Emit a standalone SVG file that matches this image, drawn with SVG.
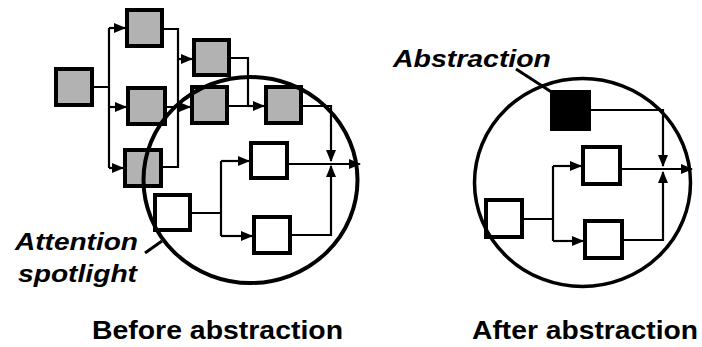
<svg xmlns="http://www.w3.org/2000/svg" width="702" height="347" viewBox="0 0 702 347">
<style>
.g{fill:#b2b2b2;stroke:#000;stroke-width:4}
.w{fill:#fff;stroke:#000;stroke-width:4}
.b{fill:#000;stroke:#000;stroke-width:4}
.c{fill:none;stroke:#000;stroke-width:2.2}
.a{fill:none;stroke:#000;stroke-width:2.2;marker-end:url(#ah)}
.ring{fill:none;stroke:#000;stroke-width:4}
.lbl{font-family:"Liberation Sans",Arial,sans-serif;font-weight:bold;fill:#000}
.it{font-style:italic}
</style>
<defs>
<marker id="ah" markerUnits="userSpaceOnUse" markerWidth="12" markerHeight="10" refX="11" refY="5" orient="auto">
<path d="M0,0 L12,5 L0,10 z" fill="#000"/>
</marker>
</defs>
<g id="connectors">
<path class="c" d="M94,87 H109 M109,28 V168"/>
<path class="a" d="M109,28 H125"/>
<path class="a" d="M109,107 H126"/>
<path class="a" d="M109,168 H123"/>
<path class="c" d="M164,29 H178 V167 H163 M167,107 H178"/>
<path class="a" d="M178,59 H192"/>
<path class="a" d="M178,107 H190"/>
<path class="c" d="M231,58 H248 V106 M229,106 H248"/>
<path class="a" d="M248,106 H264"/>
<path class="a" d="M303,106 H331 V161"/>
<path class="a" d="M289,164 H360"/>
<path class="a" d="M292,235 H331 V166"/>
<path class="c" d="M192,213 H221 M221,161 V236"/>
<path class="a" d="M221,161 H249"/>
<path class="a" d="M221,236 H252"/>
<path class="a" d="M591,110 H663 V166"/>
<path class="a" d="M622,169 H692"/>
<path class="a" d="M624,240 H663 V172"/>
<path class="c" d="M524,219 H553 M553,166 V241"/>
<path class="a" d="M553,166 H581"/>
<path class="a" d="M553,241 H583"/>
<path class="c" style="stroke-width:3" d="M145,253 L162,241"/>
<path class="c" style="stroke-width:3" d="M516,69 L553,93"/>
</g>
<g id="n1"><rect class="g" x="56" y="69" width="36" height="36"/></g>
<g id="n2"><rect class="g" x="127" y="10" width="35" height="36"/></g>
<g id="n3"><rect class="g" x="128" y="88" width="37" height="36"/></g>
<g id="n4"><rect class="g" x="125" y="150" width="36" height="36"/></g>
<g id="n5"><rect class="g" x="194" y="40" width="35" height="35"/></g>
<g id="n6"><rect class="g" x="192" y="87" width="35" height="36"/></g>
<g id="n7"><rect class="g" x="266" y="87" width="35" height="36"/></g>
<g id="n8"><rect class="w" x="251" y="143" width="36" height="35"/></g>
<g id="n9"><rect class="w" x="155" y="195" width="35" height="35"/></g>
<g id="n10"><rect class="w" x="254" y="217" width="36" height="36"/></g>
<g id="n11"><rect class="b" x="552" y="92" width="37" height="37"/></g>
<g id="n12"><rect class="w" x="583" y="147" width="37" height="37"/></g>
<g id="n13"><rect class="w" x="486" y="200" width="36" height="37"/></g>
<g id="n14"><rect class="w" x="585" y="221" width="37" height="37"/></g>
<ellipse class="ring" cx="250.5" cy="180" rx="107" ry="103"/>
<ellipse class="ring" cx="582.5" cy="182.5" rx="108" ry="104" style="stroke-width:3.5"/>
<text class="lbl" x="92" y="339" font-size="26" textLength="251" lengthAdjust="spacingAndGlyphs">Before abstraction</text>
<text class="lbl" x="472" y="339" font-size="26" textLength="226" lengthAdjust="spacingAndGlyphs">After abstraction</text>
<text class="lbl it" x="393" y="67" font-size="23" textLength="158" lengthAdjust="spacingAndGlyphs">Abstraction</text>
<text class="lbl it" x="15" y="250" font-size="24" textLength="123" lengthAdjust="spacingAndGlyphs">Attention</text>
<text class="lbl it" x="18" y="282" font-size="24" textLength="119" lengthAdjust="spacingAndGlyphs">spotlight</text>
</svg>
